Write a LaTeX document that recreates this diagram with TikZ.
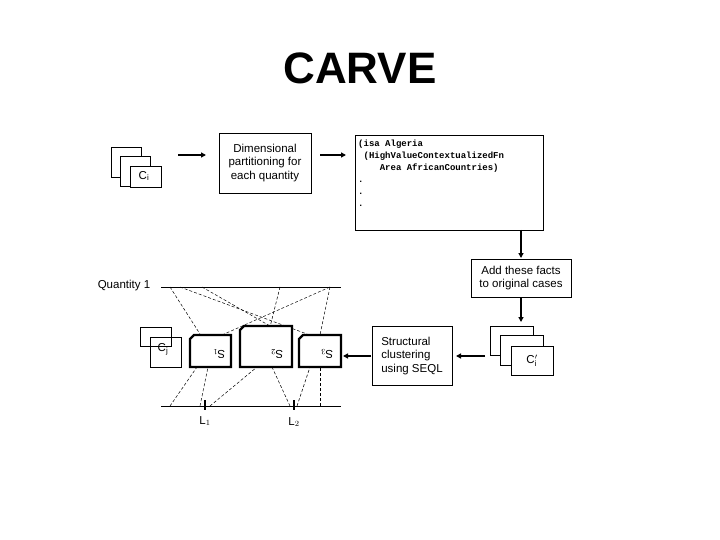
\documentclass[tikz,border=0pt]{standalone}
\usepackage{fontspec}
\setmainfont{Liberation Sans}
\newfontfamily\monof{Liberation Mono}
\usetikzlibrary{arrows.meta}
\begin{document}
\begin{tikzpicture}[x=1pt,y=-1pt,
  thin box/.style={draw,line width=0.5pt,fill=white},
  sbox/.style={draw,line width=2.2pt,fill=white},
  arr/.style={-{Triangle[length=5pt,width=5pt]},line width=1.3pt},
  dl/.style={dashed,line width=0.5pt,dash pattern=on 3pt off 2pt},
  lbl/.style={font=\fontsize{11.5}{13.5}\selectfont,align=left}]
\useasboundingbox (0,0) rectangle (720,540);
\node[font=\bfseries\fontsize{44}{50}\selectfont] (title) at (360,68) {CARVE};
% Ci stack
\draw[thin box] (111,147) rectangle (141,177);
\draw[thin box] (120,156) rectangle (150,186);
\draw[thin box] (130,166) rectangle (161,187);
\node[lbl] (ci) at (144,176) {C$_\mathrm{i}$};
\coordinate (a1s) at (178,155); \coordinate (a1e) at (206,155);
\draw[arr] (a1s) -- (a1e);
\node[thin box,lbl,align=center,minimum width=92pt,minimum height=60pt,inner sep=2pt] (dim) at (265,163) {Dimensional\\partitioning for\\each quantity};
\coordinate (a2s) at (320,155); \coordinate (a2e) at (346,155);
\draw[arr] (a2s) -- (a2e);
\draw[thin box] (355,135) rectangle (543,230);
\node[anchor=north west,inner sep=0,font=\monof\bfseries\fontsize{9}{12}\selectfont,align=left] (facts) at (358,140)
 {(isa Algeria\\\ (HighValueContextualizedFn\\\ \ \ \ Area AfricanCountries)\\.\\.\\.};
\coordinate (f1) at (521,230); \coordinate (f2) at (521,258);
\draw[arr] (f1) -- (f2);
\node[thin box,lbl,align=center,minimum width=100pt,minimum height=38pt,inner sep=2pt] (add) at (521,278) {Add these facts\\to original cases};
\coordinate (g2) at (521,322);
\draw[arr] (add.south) -- (g2);
% Ci' stack
\draw[thin box] (490,326) rectangle (533,355);
\draw[thin box] (500,335) rectangle (543,365);
\draw[thin box] (511,346) rectangle (553,375);
\node[lbl] (cip) at (532,361) {C$_\mathrm{i}'$};
\coordinate (h1) at (485,356); \coordinate (h2) at (456,356);
\draw[arr] (h1) -- (h2);
\node[thin box,lbl,align=left,minimum width=80pt,minimum height=59pt,inner sep=3pt] (struct) at (412,356) {Structural\\clustering\\using SEQL};
% quantity
\node[lbl] (q1) at (124,286) {Quantity 1};
\draw[line width=0.6pt] (161,287) -- (341,287);
\draw[line width=0.6pt] (161,406) -- (341,406);
% dashed lines
\draw[dl] (170,287) -- (200,334);
\draw[dl] (180,287) -- (307,334);
\draw[dl] (202,287) -- (270,326);
\draw[dl] (280,287) -- (270,327);
\draw[dl] (330,287) -- (320,335);
\draw[dl] (222,335) -- (330,287);
\draw[dl] (170,406) -- (197,367);
\draw[dl] (200,406) -- (208,367);
\draw[dl] (210,406) -- (257,367);
\draw[dl] (290,406) -- (272,367);
\draw[dl] (297,406) -- (310,367);
\draw[dl] (320,406) -- (320,367);
% Cj
\draw[thin box] (140,327) rectangle (171,346);
\draw[thin box,fill=none] (150,337) rectangle (181,367);
\node[lbl] (cj) at (163,349) {C$_\mathrm{j}$};
% S boxes
\draw[sbox] (194,335) -- (231,335) -- (231,367) -- (190,367) -- (190,339) -- cycle;
\node[lbl,rotate=180] (s1) at (219,354) {S$_1$};
\draw[sbox] (244,326) -- (292,326) -- (292,367) -- (240,367) -- (240,330) -- cycle;
\node[lbl,rotate=180] (s2) at (277,354) {S$_2$};
\draw[sbox] (303,335) -- (341,335) -- (341,367) -- (299,367) -- (299,339) -- cycle;
\node[lbl,rotate=180] (s3) at (327,354) {S$_3$};
\coordinate (k1) at (371,356); \coordinate (k2) at (343,356);
\draw[arr] (k1) -- (k2);
% ticks
\draw[line width=2pt] (205,400) -- (205,410);
\draw[line width=2pt] (294,400) -- (294,410);
\node[lbl] (l1) at (205,421) {L$_1$};
\node[lbl] (l2) at (294,422) {L$_2$};
\end{tikzpicture}
\end{document}
